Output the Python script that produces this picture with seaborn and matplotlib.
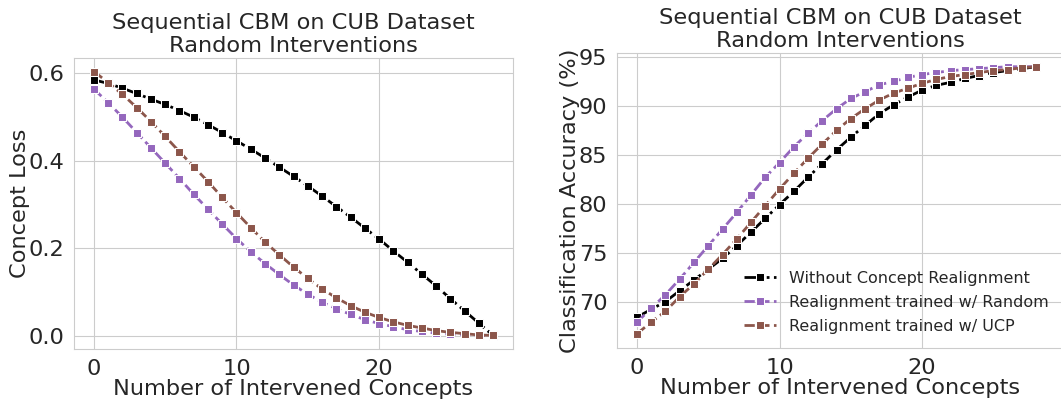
import matplotlib
matplotlib.use("Agg")
import matplotlib.pyplot as plt
import seaborn as sns

# number of intervened concepts
steps = list(range(29))

# concept loss (left panel)
loss_without = [0.584, 0.576, 0.565, 0.553, 0.540, 0.528, 0.514, 0.499, 0.482, 0.464,
                0.445, 0.426, 0.406, 0.385, 0.364, 0.342, 0.319, 0.295, 0.271, 0.246,
                0.221, 0.194, 0.168, 0.141, 0.114, 0.085, 0.057, 0.029, 0.001]
loss_random = [0.563, 0.532, 0.499, 0.464, 0.429, 0.394, 0.359, 0.323, 0.289, 0.255,
               0.222, 0.192, 0.165, 0.140, 0.116, 0.095, 0.077, 0.062, 0.049, 0.037,
               0.028, 0.021, 0.014, 0.010, 0.006, 0.004, 0.003, 0.001, 0.000]
loss_ucp = [0.603, 0.578, 0.551, 0.521, 0.489, 0.455, 0.420, 0.386, 0.352, 0.316,
            0.281, 0.247, 0.214, 0.185, 0.157, 0.131, 0.107, 0.087, 0.069, 0.054,
            0.042, 0.032, 0.024, 0.018, 0.012, 0.008, 0.005, 0.002, 0.001]

# classification accuracy (right panel)
acc_without = [68.4, 69.2, 70.0, 71.1, 72.2, 73.3, 74.4, 75.7, 77.1, 78.5,
               79.9, 81.25, 82.7, 84.1, 85.5, 86.8, 88.0, 89.2, 90.1, 90.9,
               91.6, 92.1, 92.4, 92.8, 93.1, 93.4, 93.6, 93.8, 94.0]
acc_random = [67.9, 69.3, 70.7, 72.3, 74.0, 75.7, 77.4, 79.1, 80.9, 82.7,
              84.2, 85.8, 87.2, 88.5, 89.7, 90.75, 91.45, 92.15, 92.5, 92.9,
              93.2, 93.4, 93.6, 93.7, 93.8, 93.9, 94.0, 94.0, 94.0]
acc_ucp = [66.7, 67.9, 69.0, 70.5, 71.8, 73.3, 74.8, 76.4, 78.1, 79.8,
           81.5, 83.1, 84.65, 86.1, 87.5, 88.7, 89.7, 90.6, 91.3, 91.8,
           92.3, 92.7, 93.0, 93.2, 93.4, 93.6, 93.7, 93.9, 94.0]

labels = ["Without Concept Realignment", "Realignment trained w/ Random",
          "Realignment trained w/ UCP"]
colors = ["black", "#9467bd", "#8c564b"]
styles = ["-.", "--", "--"]

sns.set_style("whitegrid")
plt.rcParams["font.family"] = ["DejaVu Sans"]

fig = plt.figure(figsize=(10.61, 4.03), dpi=100)
ax1 = fig.add_axes([74 / 1061, 54 / 403, 439 / 1061, 291 / 403])
ax2 = fig.add_axes([617 / 1061, 55 / 403, 447 / 1061, 295 / 403])

title = "Sequential CBM on CUB Dataset\nRandom Interventions"

for ax, series, ylab in [(ax1, [loss_without, loss_random, loss_ucp], "Concept Loss"),
                         (ax2, [acc_without, acc_random, acc_ucp], "Classification Accuracy (%)")]:
    for vals, lab, col, ls in zip(series, labels, colors, styles):
        sns.lineplot(x=steps, y=vals, ax=ax, marker="s", markersize=5.5, color=col,
                     linestyle=ls, linewidth=2.0, label=lab)
    ax.set_title(title, fontsize=16.2, color=".15", pad=4)
    ax.set_xlabel("Number of Intervened Concepts", fontsize=16.2, color=".15", labelpad=0)
    ax.set_ylabel(ylab, fontsize=16.2, color=".15", labelpad=-1)
    ax.tick_params(labelsize=16.2, colors=".15")
    ax.set_xticks([0, 10, 20])

ax1.set_xlim(-1.4, 29.4)
ax1.set_ylim(-0.03, 0.634)
ax1.set_yticks([0.0, 0.2, 0.4, 0.6])
ax1.get_legend().remove()

ax2.set_xlim(-1.4, 29.95)
ax2.set_ylim(65.25, 95.4)
ax2.set_yticks([70, 75, 80, 85, 90, 95])
ax2.legend(loc="lower right", fontsize=11.5, frameon=False,
           bbox_to_anchor=(0.998, 0.0), labelspacing=0.55)

fig.savefig("out.png", dpi=100)
